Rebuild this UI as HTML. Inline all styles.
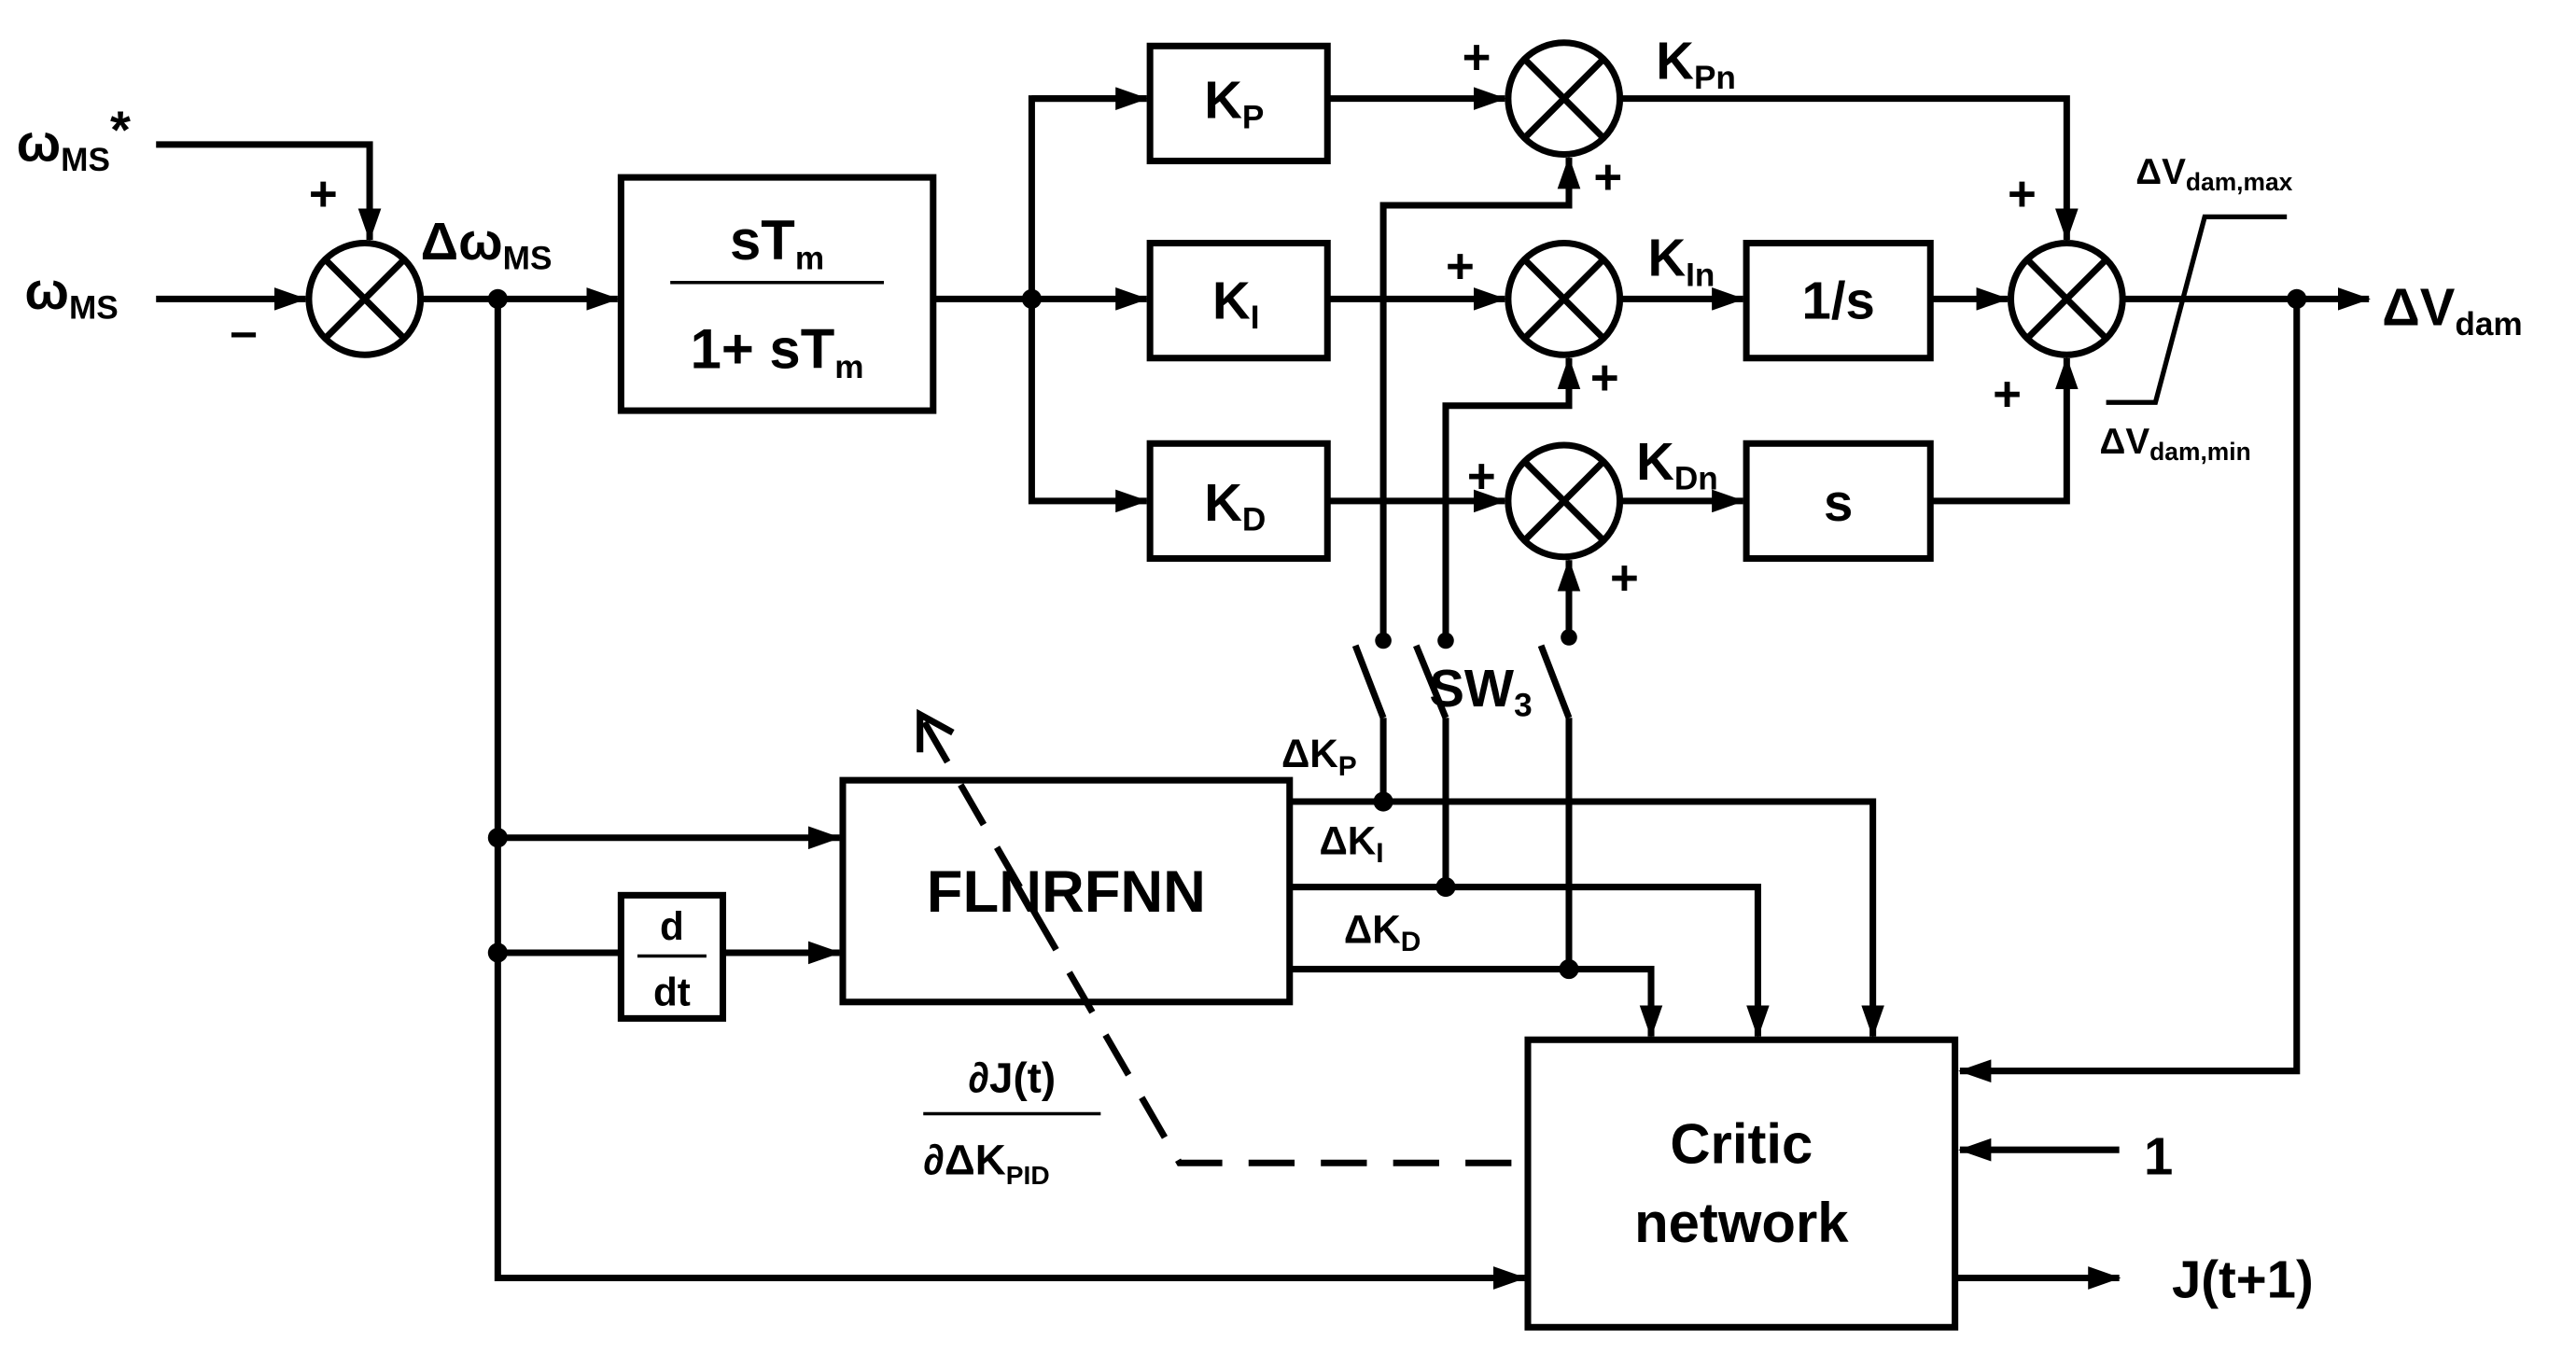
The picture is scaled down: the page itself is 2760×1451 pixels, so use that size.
<!DOCTYPE html>
<html><head><meta charset="utf-8"><style>
html,body{margin:0;padding:0;background:#fff;}
svg{display:block}
text{font-family:"Liberation Sans",Arial,sans-serif;font-weight:bold;fill:#000}
</style></head><body>
<svg width="2760" height="1451" viewBox="0 0 1568 824.3" preserveAspectRatio="none" xmlns="http://www.w3.org/2000/svg">
<defs>
<marker id="ar" viewBox="0 0 20 14" refX="19" refY="7" markerWidth="20" markerHeight="14" orient="auto" markerUnits="userSpaceOnUse"><path d="M0,0 L20,7 L0,14 Z" fill="#000"/></marker>
</defs>
<g stroke="#000" stroke-width="4" fill="none">
<polyline points="95,88 225,88 225,146" marker-end="url(#ar)"/>
<line x1="95" y1="182" x2="186" y2="182" marker-end="url(#ar)"/>
<circle cx="222" cy="182" r="34"/>
<line x1="198" y1="158" x2="246" y2="206"/><line x1="246" y1="158" x2="198" y2="206"/>
<line x1="256" y1="182" x2="376" y2="182" marker-end="url(#ar)"/>
<rect x="378" y="108" width="190" height="142"/>
<line x1="408" y1="172" x2="538" y2="172" stroke-width="2"/>
<line x1="568" y1="182" x2="628" y2="182"/>
<polyline points="698,60 628,60 628,305 698,305" marker-end="url(#ar)"/>
<line x1="628" y1="60" x2="698" y2="60" marker-end="url(#ar)"/>
<line x1="628" y1="182" x2="698" y2="182" marker-end="url(#ar)"/>
<rect x="700" y="28" width="108" height="70"/>
<rect x="700" y="148" width="108" height="70"/>
<rect x="700" y="270" width="108" height="70"/>
<line x1="808" y1="60" x2="916" y2="60" marker-end="url(#ar)"/>
<line x1="808" y1="182" x2="916" y2="182" marker-end="url(#ar)"/>
<line x1="808" y1="305" x2="916" y2="305" marker-end="url(#ar)"/>
<circle cx="952" cy="60" r="34"/>
<line x1="928" y1="36" x2="976" y2="84"/><line x1="976" y1="36" x2="928" y2="84"/>
<circle cx="952" cy="182" r="34"/>
<line x1="928" y1="158" x2="976" y2="206"/><line x1="976" y1="158" x2="928" y2="206"/>
<circle cx="952" cy="305" r="34"/>
<line x1="928" y1="281" x2="976" y2="329"/><line x1="976" y1="281" x2="928" y2="329"/>
<polyline points="986,60 1258,60 1258,146" marker-end="url(#ar)"/>
<line x1="986" y1="182" x2="1061" y2="182" marker-end="url(#ar)"/>
<line x1="986" y1="305" x2="1061" y2="305" marker-end="url(#ar)"/>
<rect x="1063" y="148" width="112" height="70"/>
<rect x="1063" y="270" width="112" height="70"/>
<line x1="1175" y1="182" x2="1222" y2="182" marker-end="url(#ar)"/>
<polyline points="1175,305 1258,305 1258,218" marker-end="url(#ar)"/>
<circle cx="1258" cy="182" r="34"/>
<line x1="1234" y1="158" x2="1282" y2="206"/><line x1="1282" y1="158" x2="1234" y2="206"/>
<line x1="1292" y1="182" x2="1442" y2="182" marker-end="url(#ar)"/>
<polyline points="1282,245 1312,245 1342,132 1392,132" stroke-width="3"/>
<polyline points="1398,182 1398,652 1193,652" marker-end="url(#ar)"/>
<polyline points="842,390 842,125 955,125 955,96" marker-end="url(#ar)"/>
<polyline points="880,390 880,247 955,247 955,218" marker-end="url(#ar)"/>
<line x1="955" y1="388" x2="955" y2="341" marker-end="url(#ar)"/>
<line x1="825" y1="393" x2="842" y2="437"/>
<line x1="862" y1="393" x2="880" y2="437"/>
<line x1="938" y1="393" x2="955" y2="437"/>
<line x1="842" y1="437" x2="842" y2="488"/>
<line x1="880" y1="437" x2="880" y2="540"/>
<line x1="955" y1="437" x2="955" y2="590"/>
<rect x="513" y="475" width="272" height="135"/>
<polyline points="785,488 1140,488 1140,631" marker-end="url(#ar)"/>
<polyline points="785,540 1070,540 1070,631" marker-end="url(#ar)"/>
<polyline points="785,590 1005,590 1005,631" marker-end="url(#ar)"/>
<polyline points="303,182 303,778 928,778" marker-end="url(#ar)"/>
<line x1="303" y1="510" x2="511" y2="510" marker-end="url(#ar)"/>
<line x1="303" y1="580" x2="378" y2="580"/>
<rect x="378" y="545" width="62" height="75"/>
<line x1="388" y1="582" x2="430" y2="582" stroke-width="2"/>
<line x1="440" y1="580" x2="511" y2="580" marker-end="url(#ar)"/>
<rect x="930" y="633" width="260" height="175"/>
<line x1="1290" y1="700" x2="1193" y2="700" marker-end="url(#ar)"/>
<line x1="1190" y1="778" x2="1290" y2="778" marker-end="url(#ar)"/>
<polyline points="920,708 718,708 560,435" stroke-dasharray="28,16"/>
<polyline points="560,458 560,435 580,446"/>
<line x1="562" y1="678" x2="670" y2="678" stroke-width="2"/>
</g>
<g fill="#000">
<circle cx="303" cy="182" r="6"/><circle cx="628" cy="182" r="6"/><circle cx="1398" cy="182" r="6"/>
<circle cx="842" cy="390" r="5"/><circle cx="880" cy="390" r="5"/><circle cx="955" cy="388" r="5"/>
<circle cx="842" cy="488" r="6"/><circle cx="880" cy="540" r="6"/><circle cx="955" cy="590" r="6"/>
<circle cx="303" cy="510" r="6"/><circle cx="303" cy="580" r="6"/>
</g>
<g font-size="32">
<text x="10" y="98">ω<tspan font-size="20" dy="6">MS</tspan><tspan dy="-14">*</tspan></text>
<text x="15" y="188">ω<tspan font-size="20" dy="6">MS</tspan></text>
<text x="188" y="128" font-size="30">+</text>
<text x="140" y="212" font-size="30">–</text>
<text x="256" y="158">Δω<tspan font-size="20" dy="6">MS</tspan></text>
<text x="473" y="158" text-anchor="middle" font-size="34">sT<tspan font-size="20" dy="6">m</tspan></text>
<text x="473" y="224" text-anchor="middle" font-size="34">1+ sT<tspan font-size="20" dy="6">m</tspan></text>
<text x="733" y="72">K<tspan font-size="20" dy="6">P</tspan></text>
<text x="738" y="194">K<tspan font-size="20" dy="6">I</tspan></text>
<text x="733" y="317">K<tspan font-size="20" dy="6">D</tspan></text>
<text x="1008" y="48">K<tspan font-size="20" dy="6">Pn</tspan></text>
<text x="1003" y="168">K<tspan font-size="20" dy="6">In</tspan></text>
<text x="996" y="292">K<tspan font-size="20" dy="6">Dn</tspan></text>
<text x="1119" y="194" text-anchor="middle">1/s</text>
<text x="1119" y="317" text-anchor="middle">s</text>
<text x="890" y="45" font-size="30">+</text>
<text x="970" y="118" font-size="30">+</text>
<text x="880" y="172" font-size="30">+</text>
<text x="968" y="240" font-size="30">+</text>
<text x="893" y="300" font-size="30">+</text>
<text x="980" y="362" font-size="30">+</text>
<text x="1222" y="128" font-size="30">+</text>
<text x="1213" y="250" font-size="30">+</text>
<text x="1450" y="198">ΔV<tspan font-size="20" dy="6">dam</tspan></text>
<text x="1300" y="112" font-size="22">ΔV<tspan font-size="15" dy="4">dam,max</tspan></text>
<text x="1278" y="276" font-size="22">ΔV<tspan font-size="15" dy="4">dam,min</tspan></text>
<text x="870" y="430">SW<tspan font-size="20" dy="6">3</tspan></text>
<text x="780" y="467" font-size="24">ΔK<tspan font-size="17" dy="5">P</tspan></text>
<text x="803" y="520" font-size="24">ΔK<tspan font-size="17" dy="5">I</tspan></text>
<text x="818" y="574" font-size="24">ΔK<tspan font-size="17" dy="5">D</tspan></text>
<text x="649" y="555" text-anchor="middle" font-size="36">FLNRFNN</text>
<text x="409" y="572" text-anchor="middle" font-size="24">d</text>
<text x="409" y="612" text-anchor="middle" font-size="24">dt</text>
<text x="616" y="665" text-anchor="middle" font-size="26">∂J(t)</text>
<text x="562" y="715" font-size="26">∂ΔK<tspan font-size="16" dy="6">PID</tspan></text>
<text x="1060" y="708" text-anchor="middle" font-size="34">Critic</text>
<text x="1060" y="756" text-anchor="middle" font-size="34">network</text>
<text x="1305" y="715">1</text>
<text x="1322" y="790">J(t+1)</text>
</g>
</svg>
</body></html>
